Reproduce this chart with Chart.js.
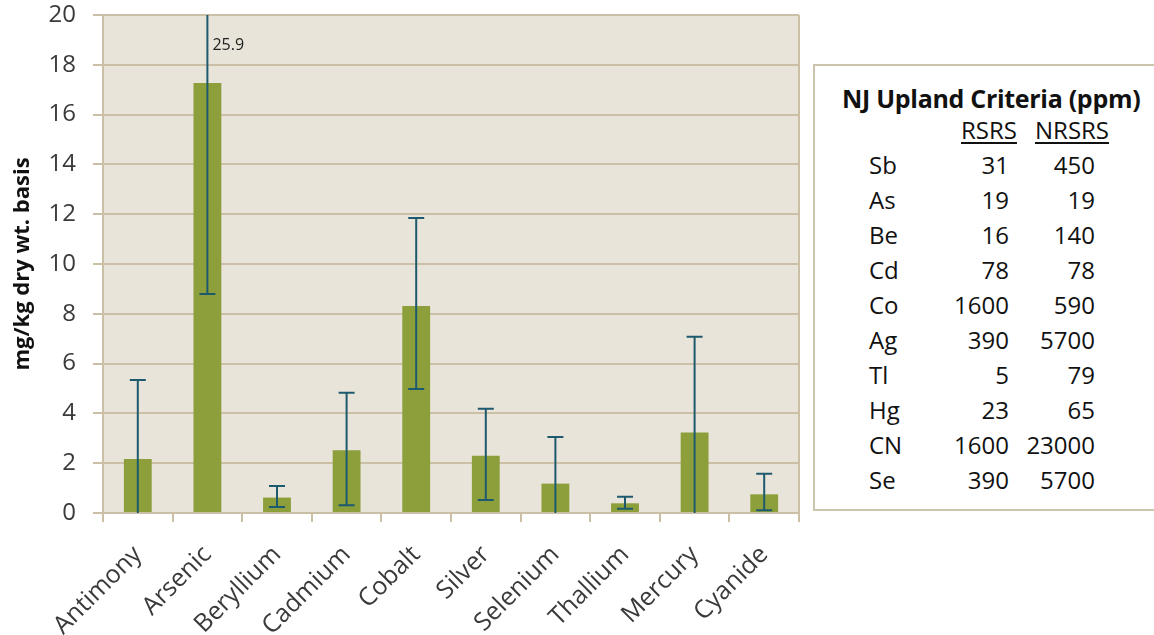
<!DOCTYPE html>
<html>
<head>
<meta charset="utf-8">
<script src="https://cdn.jsdelivr.net/npm/chart.js@4.4.1/dist/chart.umd.min.js"></script>
<style>
  body { margin: 0; background: #fff; width: 1154px; height: 635px; overflow: hidden; position: relative; font-family: 'Open Sans', sans-serif; }
  #wrap { position: absolute; left: 0; top: 0; width: 810px; height: 635px; }
  #criteria { position: absolute; left: 813px; top: 64px; width: 360px; height: 447px; border: 2px solid #cdc4ae; box-sizing: border-box; color: #111; }
  #criteria .title { position: absolute; left: 27px; top: 15px; font-weight: bold; font-size: 25px; white-space: nowrap; letter-spacing: -0.3px; }
  #criteria .cell { position: absolute; font-size: 24px; white-space: nowrap; line-height: 28px; }
  #criteria .head { text-decoration: underline; text-decoration-thickness: 2px; text-underline-offset: 3px; }
</style>
</head>
<body>
<div id="wrap"><canvas id="metals" width="810" height="635"></canvas></div>
<div id="criteria"></div>
<script>
const categories = ['Antimony', 'Arsenic', 'Beryllium', 'Cadmium', 'Cobalt', 'Silver', 'Selenium', 'Thallium', 'Mercury', 'Cyanide'];
const means = [2.17, 17.27, 0.62, 2.52, 8.31, 2.3, 1.18, 0.39, 3.23, 0.75];
const upperErr = [5.34, 25.9, 1.08, 4.83, 11.85, 4.19, 3.05, 0.65, 7.08, 1.58];
const lowerErr = [0, 8.8, 0.24, 0.31, 4.98, 0.52, 0, 0.17, 0, 0.11];
const yTicks = [0, 2, 4, 6, 8, 10, 12, 14, 16, 18, 20];

const tableTitle = 'NJ Upland Criteria (ppm)';
const tableHeads = ['RSRS', 'NRSRS'];
const elements = ['Sb', 'As', 'Be', 'Cd', 'Co', 'Ag', 'Tl', 'Hg', 'CN', 'Se'];
const rsrs = ['31', '19', '16', '78', '1600', '390', '5', '23', '1600', '390'];
const nrsrs = ['450', '19', '140', '78', '590', '5700', '79', '65', '23000', '5700'];

const GRID = '#cbc0a6';
const TEXT = '#3a3a3a';

// plot background
const plotBg = {
  id: 'plotBg',
  beforeDraw(chart) {
    const {ctx, chartArea: a} = chart;
    ctx.save();
    ctx.fillStyle = '#e8e4da';
    ctx.fillRect(a.left, a.top, a.right - a.left, a.bottom - a.top);
    ctx.strokeStyle = GRID;
    ctx.lineWidth = 2;
    ctx.beginPath();
    ctx.moveTo(a.right, a.top);
    ctx.lineTo(a.right, a.bottom);
    ctx.stroke();
    ctx.restore();
  }
};

// error bars + clipped value label
const errorBars = {
  id: 'errorBars',
  afterDatasetsDraw(chart) {
    const {ctx, chartArea: a, scales: {y}} = chart;
    const meta = chart.getDatasetMeta(0);
    ctx.save();
    ctx.strokeStyle = '#1d5a6e';
    ctx.lineWidth = 2;
    means.forEach((v, i) => {
      const cx = meta.data[i].x;
      const yHi = y.getPixelForValue(upperErr[i]);
      const yLo = y.getPixelForValue(lowerErr[i]);
      const top = Math.max(yHi, a.top);
      ctx.beginPath();
      ctx.moveTo(cx, top);
      ctx.lineTo(cx, yLo);
      if (yHi >= a.top) {
        ctx.moveTo(cx - 8, yHi);
        ctx.lineTo(cx + 8, yHi);
      }
      if (lowerErr[i] > 0) {
        ctx.moveTo(cx - 8, yLo);
        ctx.lineTo(cx + 8, yLo);
      }
      ctx.stroke();
      if (upperErr[i] > y.max) {
        ctx.fillStyle = '#222';
        ctx.font = '16px "Open Sans"';
        ctx.textBaseline = 'middle';
        ctx.fillText(String(upperErr[i]), cx + 5, a.top + 30);
      }
    });
    ctx.restore();
  }
};

new Chart(document.getElementById('metals'), {
  type: 'bar',
  data: {
    labels: categories,
    datasets: [{
      data: means,
      backgroundColor: '#8c9f3b',
      barPercentage: 0.8,
      categoryPercentage: 0.5
    }]
  },
  options: {
    responsive: false,
    animation: false,
    devicePixelRatio: 1,
    layout: {padding: {top: 15, right: 11, bottom: 0, left: 0}},
    plugins: {legend: {display: false}, tooltip: {enabled: false}},
    scales: {
      x: {
        grid: {color: GRID, lineWidth: 2, drawOnChartArea: false, tickLength: 9, offset: true},
        border: {color: GRID, width: 2},
        ticks: {color: TEXT, font: {family: 'Open Sans', size: 25}, minRotation: 45, maxRotation: 45, padding: 18},
        afterFit(scale) {
          scale.height = 122;
          scale.paddingLeft = 0;
          scale.paddingRight = 0;
        }
      },
      y: {
        min: 0,
        max: 20,
        afterBuildTicks(scale) { scale.ticks = yTicks.map((v) => ({value: v})); },
        grid: {color: GRID, lineWidth: 2, tickLength: 10},
        border: {color: GRID, width: 2},
        ticks: {color: TEXT, font: {family: 'Open Sans', size: 24}, padding: 17},
        title: {display: true, text: 'mg/kg dry wt. basis', color: '#111', font: {family: 'Open Sans', size: 22, weight: 'bold'}, padding: 10},
        afterFit(scale) {
          scale.width = 103;
          scale.paddingTop = 0;
          scale.paddingBottom = 0;
        }
      }
    }
  },
  plugins: [plotBg, errorBars]
});

// criteria table
const box = document.getElementById('criteria');
const add = (text, cls, style) => {
  const el = document.createElement('div');
  el.className = cls;
  el.textContent = text;
  Object.assign(el.style, style);
  box.appendChild(el);
};
add(tableTitle, 'title', {});
add(tableHeads[0], 'cell head', {left: '146px', top: '50px'});
add(tableHeads[1], 'cell head', {left: '220px', top: '50px'});
elements.forEach((el, i) => {
  const top = (85 + i * 35) + 'px';
  add(el, 'cell', {left: '54px', top});
  add(rsrs[i], 'cell', {right: '162px', top});
  add(nrsrs[i], 'cell', {right: '76px', top});
});
</script>
</body>
</html>
